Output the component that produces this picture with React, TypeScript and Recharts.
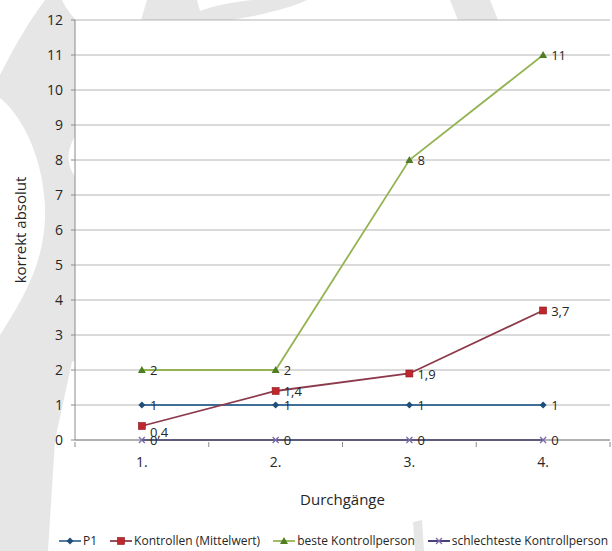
import React from 'react';
import { LineChart, Line, XAxis, YAxis, CartesianGrid, Legend, LabelList, Label } from 'recharts';

// Durchgänge (x-Kategorien)
const categories = ['1.', '2.', '3.', '4.'];

// Werte je Reihe
const p1 = [1, 1, 1, 1];
const kontrollenMittel = [0.4, 1.4, 1.9, 3.7];
const besteKontrolle = [2, 2, 8, 11];
const schlechtesteKontrolle = [0, 0, 0, 0];

const yTicks = [0, 1, 2, 3, 4, 5, 6, 7, 8, 9, 10, 11, 12];

const data = categories.map((cat, i) => ({
  cat,
  p1: p1[i],
  kontrollen: kontrollenMittel[i],
  beste: besteKontrolle[i],
  schlechteste: schlechtesteKontrolle[i],
}));

const FONT = '"Open Sans", "Noto Sans", sans-serif';
const TEXT = '#262626';

// Marker
const Diamond = ({ cx, cy, color }: any) => (
  <path d={`M${cx},${cy - 3.5} L${cx + 3.5},${cy} L${cx},${cy + 3.5} L${cx - 3.5},${cy} Z`} fill={color} />
);
const Square = ({ cx, cy, color }: any) => (
  <rect x={cx - 3.5} y={cy - 3.5} width={7} height={7} fill={color} stroke="#8b1a1f" strokeWidth={0.6} />
);
const Triangle = ({ cx, cy, color }: any) => (
  <path d={`M${cx},${cy - 4} L${cx + 4},${cy + 3} L${cx - 4},${cy + 3} Z`} fill={color} />
);
const Cross = ({ cx, cy, color }: any) => (
  <path d={`M${cx - 3},${cy - 3} L${cx + 3},${cy + 3} M${cx + 3},${cy - 3} L${cx - 3},${cy + 3}`} stroke={color} strokeWidth={1.3} />
);

const fmt = (v: number) => String(v).replace('.', ',');

// eslint-disable-next-line @typescript-eslint/no-explicit-any
const makeLabel = (below: number[] = []) => (props: any) => {
  const { x, y, value, index } = props;
  const dy = below.includes(index) ? 11 : 5;
  return (
    <text x={x + 8} y={y + dy} fontSize={13} fill={TEXT} fontFamily={FONT}>
      {fmt(value)}
    </text>
  );
};

// x-Ticks mit Strichen an den Kategoriegrenzen
// eslint-disable-next-line @typescript-eslint/no-explicit-any
const XTick = (props: any) => {
  const { x, y, payload, index } = props;
  const off = payload.offset || 0;
  return (
    <g>
      <line x1={x - off} y1={y} x2={x - off} y2={y + 5} stroke="#8a8a8a" />
      {index === categories.length - 1 && (
        <line x1={x + off} y1={y} x2={x + off} y2={y + 5} stroke="#8a8a8a" />
      )}
      <text x={x} y={y + 25} textAnchor="middle" fontSize={14} fill={TEXT} fontFamily={FONT}>
        {payload.value}
      </text>
    </g>
  );
};

const series = [
  { key: 'p1', name: 'P1', line: '#3f6f98', marker: '#1f4e79', Dot: Diamond },
  { key: 'kontrollen', name: 'Kontrollen (Mittelwert)', line: '#8c3a4b', marker: '#c0272d', Dot: Square },
  { key: 'beste', name: 'beste Kontrollperson', line: '#94b454', marker: '#4f7d22', Dot: Triangle },
  { key: 'schlechteste', name: 'schlechteste Kontrollperson', line: '#2f2d6e', marker: '#7d68a8', Dot: Cross },
];

const LegendContent = () => (
  <div
    style={{
      height: 26,
      boxSizing: 'border-box',
      paddingTop: 5,
      display: 'flex',
      alignItems: 'center',
      justifyContent: 'flex-end',
      paddingRight: 2,
      fontFamily: FONT,
      fontSize: 12,
      color: TEXT,
    }}
  >
    {series.map((s) => (
      <span key={s.key} style={{ display: 'inline-flex', alignItems: 'center', marginLeft: 13 }}>
        <svg width={22} height={10}>
          <line x1={0} y1={5} x2={22} y2={5} stroke={s.line} strokeWidth={1.8} />
          <s.Dot cx={11} cy={5} color={s.marker} />
        </svg>
        <span style={{ marginLeft: 2 }}>{s.name}</span>
      </span>
    ))}
  </div>
);

const Watermark = () => (
  <svg width={612} height={551} style={{ position: 'absolute', left: 0, top: 0 }}>
    <g fill="#e6e6e6">
      <path d="M45,0 L62,0 C66,8 70,14 76,20 L76,360 L72,362 L55,440 L48,551 L0,551 L0,75 C15,45 30,20 45,0 Z" />
      <path d="M147,0 L307,0 C290,8 262,15 232,20 L141,20 Z" />
      <path d="M450,0 L490,0 L498,20 L458,20 Z" />
      <path d="M413,522 L422,520 L424,551 L415,551 Z" />
    </g>
    <g fill="#ffffff">
      <path d="M0,98 C18,112 42,150 45,205 C47,262 22,300 0,335 Z" />
      <path d="M76,135 C66,150 66,165 76,178 Z" />
      <path d="M197,0 L200,11 C215,5 235,2 252,0 Z" />
    </g>
  </svg>
);

export default function App() {
  return (
    <div style={{ position: 'absolute', left: 0, top: 0, width: 612, height: 551, background: '#fff', fontFamily: FONT }}>
      <Watermark />
      <div style={{ position: 'relative' }}>
        <LineChart width={612} height={551} data={data} margin={{ top: 20, right: 2, left: 0, bottom: 0 }}>
          <CartesianGrid vertical={false} stroke="#b4b4b4" fill="#ffffff" fillOpacity={1} />
          <XAxis
            dataKey="cat"
            scale="band"
            height={85}
            stroke="#8a8a8a"
            tickLine={false}
            tickSize={0}
            tick={<XTick />}
            interval={0}
          >
            <Label
              content={({ viewBox }: any) => (
                <text x={viewBox.x + viewBox.width / 2} y={viewBox.y + 65} textAnchor="middle" fontSize={15} fill={TEXT} fontFamily={FONT}>
                  Durchgänge
                </text>
              )}
            />
          </XAxis>
          <YAxis
            width={75}
            domain={[0, 12]}
            ticks={yTicks}
            interval={0}
            stroke="#8a8a8a"
            tickSize={4}
            tickMargin={8}
            tick={{ fontSize: 14, fill: TEXT, fontFamily: FONT }}
          >
            <Label
              content={({ viewBox }: any) => (
                <text
                  x={26}
                  y={viewBox.y + viewBox.height / 2}
                  transform={`rotate(-90, 26, ${viewBox.y + viewBox.height / 2})`}
                  textAnchor="middle"
                  fontSize={15}
                  fill={TEXT}
                  fontFamily={FONT}
                >
                  korrekt absolut
                </text>
              )}
            />
          </YAxis>
          <Legend verticalAlign="bottom" content={<LegendContent />} />
          {series.map((s) => (
            <Line
              key={s.key}
              type="linear"
              dataKey={s.key}
              name={s.name}
              stroke={s.line}
              strokeWidth={1.8}
              isAnimationActive={false}
              dot={(p: any) => <s.Dot key={`${s.key}-${p.index}`} cx={p.cx} cy={p.cy} color={s.marker} />}
              activeDot={false}
            >
              <LabelList dataKey={s.key} content={makeLabel(s.key === 'kontrollen' ? [0] : [])} />
            </Line>
          ))}
        </LineChart>
      </div>
    </div>
  );
}
